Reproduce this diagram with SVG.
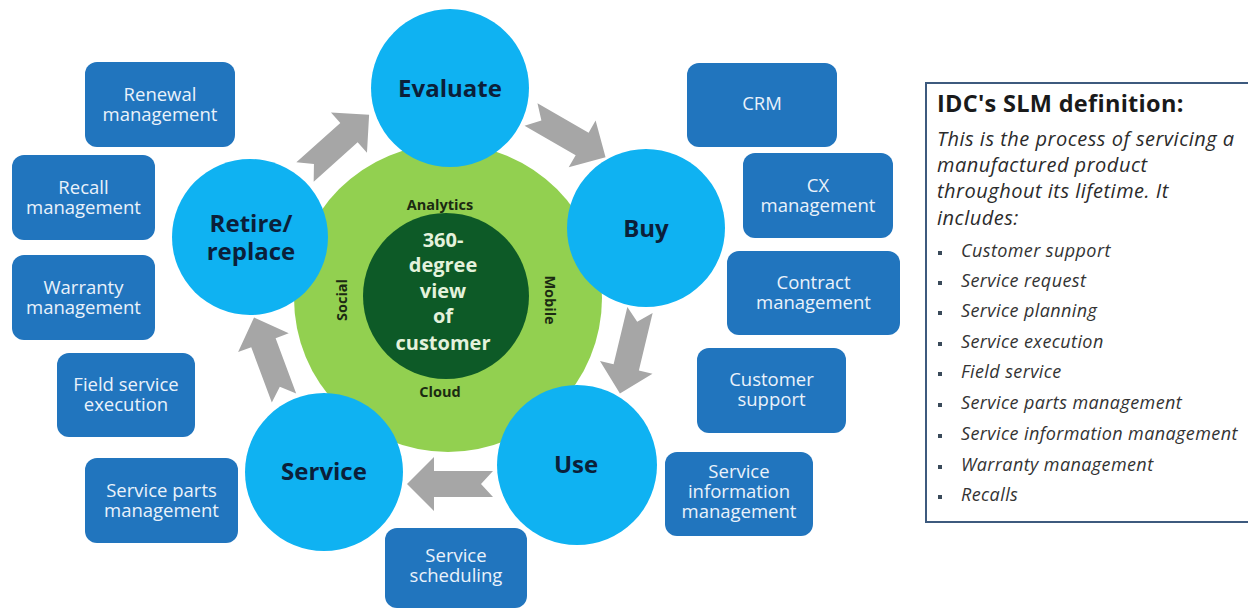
<svg xmlns="http://www.w3.org/2000/svg" xmlns:xlink="http://www.w3.org/1999/xlink" width="1248" height="610" viewBox="0 0 1248 610">
  <style>
    .stage { fill: #0fb2f2; }
    .stage-label { font-family: "Open Sans", "Liberation Sans", sans-serif; font-weight: 700; font-size: 24px; fill: #0b1f3a; text-anchor: middle; }
    .box { fill: #2175be; }
    .box-label { font-family: "Open Sans", "Liberation Sans", sans-serif; font-size: 18.5px; fill: #eaf2fb; text-anchor: middle; }
    .ring-label { font-family: "Open Sans", "Liberation Sans", sans-serif; font-weight: 700; font-size: 14.5px; fill: #1b2a12; text-anchor: middle; }
    .core-label { font-family: "Open Sans", "Liberation Sans", sans-serif; font-weight: 700; font-size: 20px; fill: #e4f2dc; text-anchor: middle; }
    .flow { fill: #a6a6a6; }
    .def-title { font-family: "Open Sans", "Liberation Sans", sans-serif; font-weight: 700; font-size: 23.5px; letter-spacing: 0.3px; fill: #1a1a1a; }
    .def-body { font-family: "Open Sans", "Liberation Sans", sans-serif; font-style: italic; font-size: 20px; letter-spacing: 0.5px; fill: #2b2b2b; }
    .def-item { font-family: "Open Sans", "Liberation Sans", sans-serif; font-style: italic; font-size: 18px; letter-spacing: 0.4px; fill: #333333; }
    .bullet { fill: #3a4a5a; }
  </style>
  <defs>
    <!-- block arrow with notched tail, pointing along +x, tail at origin -->
    <path id="arw" d="M0,-13 L59,-13 L59,-27 L86,0 L59,27 L59,13 L0,13 L12,0 Z"/>
  </defs>

  <rect width="1248" height="610" fill="#ffffff"/>

  <!-- centre hub -->
  <g id="hub">
    <circle cx="448" cy="298" r="154" fill="#92d050"/>
    <circle cx="446" cy="296" r="83" fill="#0d5a27"/>
    <text class="ring-label" x="440" y="210">Analytics</text>
    <text class="ring-label" x="440" y="397">Cloud</text>
    <text class="ring-label" transform="translate(347,300) rotate(-90)">Social</text>
    <text class="ring-label" transform="translate(545,300) rotate(90)">Mobile</text>
    <text class="core-label" x="443" y="247">360-</text>
    <text class="core-label" x="443" y="272">degree</text>
    <text class="core-label" x="443" y="298">view</text>
    <text class="core-label" x="443" y="323">of</text>
    <text class="core-label" x="443" y="350">customer</text>
  </g>

  <!-- lifecycle arrows -->
  <g id="connectors" class="flow">
    <use xlink:href="#arw" href="#arw" transform="translate(305,172) rotate(-41.8)"/>
    <use xlink:href="#arw" href="#arw" transform="translate(531,114.5) rotate(29.9)"/>
    <use xlink:href="#arw" href="#arw" transform="translate(640,310) rotate(103.5)"/>
    <use xlink:href="#arw" href="#arw" transform="translate(493,484) rotate(180)"/>
    <use xlink:href="#arw" href="#arw" transform="translate(284,398) rotate(-110.4)"/>
  </g>

  <!-- lifecycle stages -->
  <g id="evaluate">
    <circle class="stage" cx="450" cy="88" r="79"/>
    <text class="stage-label" x="450" y="97">Evaluate</text>
  </g>
  <g id="buy">
    <circle class="stage" cx="646" cy="228" r="79"/>
    <text class="stage-label" x="646" y="237">Buy</text>
  </g>
  <g id="use">
    <circle class="stage" cx="577" cy="465" r="80"/>
    <text class="stage-label" x="576" y="473">Use</text>
  </g>
  <g id="service">
    <circle class="stage" cx="324" cy="472" r="79"/>
    <text class="stage-label" x="324" y="480">Service</text>
  </g>
  <g id="retire">
    <circle class="stage" cx="250" cy="237" r="78"/>
    <text class="stage-label" x="251" y="232">Retire/</text>
    <text class="stage-label" x="251" y="260">replace</text>
  </g>

  <!-- capability boxes, left side -->
  <g id="renewal">
    <rect class="box" x="85" y="62" width="150" height="85" rx="12"/>
    <text class="box-label" x="160" y="101">Renewal</text>
    <text class="box-label" x="160" y="121">management</text>
  </g>
  <g id="recall">
    <rect class="box" x="12" y="155" width="143" height="85" rx="12"/>
    <text class="box-label" x="83.5" y="194">Recall</text>
    <text class="box-label" x="83.5" y="214">management</text>
  </g>
  <g id="warranty">
    <rect class="box" x="12" y="255" width="143" height="85" rx="12"/>
    <text class="box-label" x="83.5" y="294">Warranty</text>
    <text class="box-label" x="83.5" y="314">management</text>
  </g>
  <g id="field-service">
    <rect class="box" x="57" y="353" width="138" height="84" rx="12"/>
    <text class="box-label" x="126" y="391">Field service</text>
    <text class="box-label" x="126" y="411">execution</text>
  </g>
  <g id="service-parts">
    <rect class="box" x="85" y="458" width="153" height="85" rx="12"/>
    <text class="box-label" x="161.5" y="497">Service parts</text>
    <text class="box-label" x="161.5" y="517">management</text>
  </g>
  <g id="scheduling">
    <rect class="box" x="385" y="528" width="142" height="80" rx="12"/>
    <text class="box-label" x="456" y="562">Service</text>
    <text class="box-label" x="456" y="582">scheduling</text>
  </g>

  <!-- capability boxes, right side -->
  <g id="crm">
    <rect class="box" x="687" y="63" width="150" height="84" rx="12"/>
    <text class="box-label" x="762" y="110">CRM</text>
  </g>
  <g id="cx">
    <rect class="box" x="743" y="153" width="150" height="85" rx="12"/>
    <text class="box-label" x="818" y="192">CX</text>
    <text class="box-label" x="818" y="212">management</text>
  </g>
  <g id="contract">
    <rect class="box" x="727" y="251" width="173" height="84" rx="12"/>
    <text class="box-label" x="813.5" y="289">Contract</text>
    <text class="box-label" x="813.5" y="309">management</text>
  </g>
  <g id="customer-support">
    <rect class="box" x="697" y="348" width="149" height="85" rx="12"/>
    <text class="box-label" x="771.5" y="386">Customer</text>
    <text class="box-label" x="771.5" y="406">support</text>
  </g>
  <g id="service-info">
    <rect class="box" x="665" y="452" width="148" height="84" rx="12"/>
    <text class="box-label" x="739" y="478">Service</text>
    <text class="box-label" x="739" y="498">information</text>
    <text class="box-label" x="739" y="518">management</text>
  </g>

  <!-- definition panel -->
  <g id="definition">
    <rect x="926" y="83" width="330" height="439" fill="#ffffff" stroke="#3d5a7e" stroke-width="2"/>
    <text class="def-title" x="937" y="112">IDC's SLM definition:</text>
    <text class="def-body" x="937" y="146">This is the process of servicing a</text>
    <text class="def-body" x="937" y="172">manufactured product</text>
    <text class="def-body" x="937" y="198">throughout its lifetime. It</text>
    <text class="def-body" x="937" y="225">includes:</text>
    <g class="bullet">
      <rect x="938" y="251" width="4" height="4"/>
      <rect x="938" y="281" width="4" height="4"/>
      <rect x="938" y="311" width="4" height="4"/>
      <rect x="938" y="342" width="4" height="4"/>
      <rect x="938" y="372" width="4" height="4"/>
      <rect x="938" y="403" width="4" height="4"/>
      <rect x="938" y="434" width="4" height="4"/>
      <rect x="938" y="465" width="4" height="4"/>
      <rect x="938" y="495" width="4" height="4"/>
    </g>
    <text class="def-item" x="961" y="257">Customer support</text>
    <text class="def-item" x="961" y="287">Service request</text>
    <text class="def-item" x="961" y="317">Service planning</text>
    <text class="def-item" x="961" y="348">Service execution</text>
    <text class="def-item" x="961" y="378">Field service</text>
    <text class="def-item" x="961" y="409">Service parts management</text>
    <text class="def-item" x="961" y="440">Service information management</text>
    <text class="def-item" x="961" y="471">Warranty management</text>
    <text class="def-item" x="961" y="501">Recalls</text>
  </g>
</svg>
